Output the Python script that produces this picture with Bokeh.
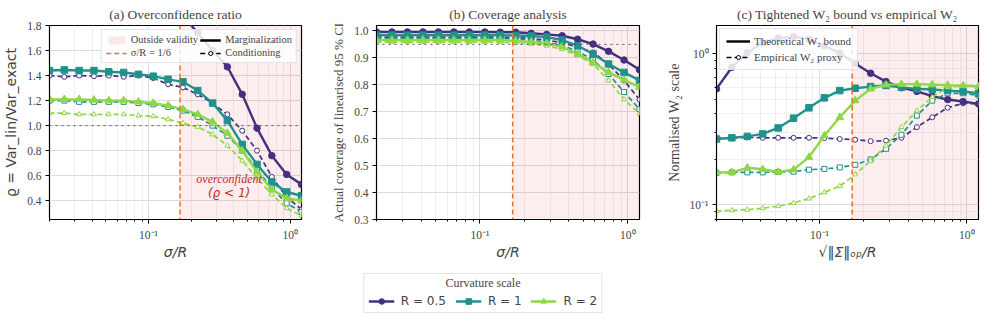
from bokeh.plotting import figure
from bokeh.models import (FixedTicker, Span, BoxAnnotation, Legend, LegendItem, Label, Range1d,
                          PrintfTickFormatter)
from bokeh.layouts import column, row
from bokeh.embed import file_html
from bokeh.resources import INLINE

# ---------------- data ----------------
sigma_over_R = [0.0200, 0.02544, 0.03238, 0.04119, 0.05241, 0.06669, 0.08484, 0.10795, 0.13734,
                0.17474, 0.22233, 0.28292, 0.35993, 0.45791, 0.58262, 0.74130, 0.94318, 1.2000]
validity_threshold = 1 / 6
ratio_reference = 1.0
nominal_coverage = 0.95

series_names = ["R = 0.5", "R = 1", "R = 2"]
series_colors = ["#45307f", "#21918c", "#8fd744"]
series_markers = ["circle", "square", "triangle"]

# (a) overconfidence ratio
ratio_marg = [
    [2.10, 2.10, 2.10, 2.09, 2.09, 2.08, 2.07, 2.05, 1.98, 1.88, 1.74, 1.60, 1.47, 1.25, 0.98, 0.76, 0.61, 0.53],
    [1.44, 1.445, 1.44, 1.44, 1.43, 1.425, 1.41, 1.395, 1.37, 1.35, 1.28, 1.18, 1.04, 0.85, 0.69, 0.55, 0.47, 0.44],
    [1.21, 1.21, 1.21, 1.205, 1.20, 1.20, 1.19, 1.18, 1.16, 1.13, 1.09, 1.03, 0.94, 0.80, 0.63, 0.49, 0.42, 0.40],
]
ratio_cond = [
    [1.40, 1.39, 1.40, 1.395, 1.40, 1.39, 1.40, 1.38, 1.33, 1.305, 1.25, 1.18, 1.09, 0.96, 0.80, 0.59, 0.43, 0.33],
    [1.20, 1.20, 1.19, 1.19, 1.19, 1.19, 1.18, 1.17, 1.15, 1.12, 1.07, 1.00, 0.92, 0.80, 0.65, 0.50, 0.38, 0.31],
    [1.10, 1.10, 1.09, 1.09, 1.09, 1.09, 1.08, 1.075, 1.05, 1.02, 0.99, 0.93, 0.84, 0.72, 0.58, 0.45, 0.34, 0.28],
]
# (b) coverage
cov_marg = [
    [0.996, 0.996, 0.996, 0.996, 0.996, 0.996, 0.996, 0.996, 0.995, 0.995, 0.991, 0.987, 0.982, 0.969, 0.951, 0.924, 0.892, 0.856],
    [0.984, 0.984, 0.984, 0.984, 0.984, 0.984, 0.984, 0.984, 0.984, 0.983, 0.981, 0.977, 0.966, 0.945, 0.914, 0.877, 0.846, 0.816],
    [0.966, 0.966, 0.966, 0.966, 0.966, 0.966, 0.966, 0.966, 0.966, 0.963, 0.959, 0.953, 0.941, 0.914, 0.883, 0.846, 0.818, 0.791],
]
cov_cond = [
    [0.977, 0.977, 0.977, 0.977, 0.977, 0.977, 0.977, 0.977, 0.977, 0.975, 0.972, 0.966, 0.956, 0.940, 0.920, 0.877, 0.816, 0.745],
    [0.972, 0.972, 0.972, 0.972, 0.972, 0.972, 0.972, 0.972, 0.972, 0.970, 0.966, 0.958, 0.946, 0.924, 0.892, 0.840, 0.773, 0.710],
    [0.958, 0.958, 0.958, 0.958, 0.958, 0.958, 0.958, 0.958, 0.958, 0.956, 0.952, 0.945, 0.932, 0.908, 0.877, 0.816, 0.746, 0.693],
]
# (c) W2 bound vs proxy
w2_bound = [
    [0.586, 0.815, 1.02, 1.18, 1.27, 1.30, 1.25, 1.13, 1.01, 0.862, 0.744, 0.655, 0.597, 0.564, 0.525, 0.498, 0.483, 0.466],
    [0.273, 0.278, 0.284, 0.295, 0.323, 0.375, 0.439, 0.511, 0.571, 0.592, 0.607, 0.617, 0.600, 0.586, 0.580, 0.571, 0.563, 0.548],
    [0.164, 0.164, 0.176, 0.172, 0.165, 0.171, 0.207, 0.288, 0.380, 0.490, 0.586, 0.623, 0.630, 0.630, 0.625, 0.620, 0.617, 0.607],
]
w2_proxy = [
    [0.275, 0.276, 0.280, 0.278, 0.278, 0.278, 0.278, 0.277, 0.273, 0.270, 0.264, 0.266, 0.278, 0.327, 0.380, 0.440, 0.470, 0.467],
    [0.163, 0.164, 0.164, 0.164, 0.165, 0.166, 0.171, 0.173, 0.177, 0.184, 0.200, 0.235, 0.291, 0.390, 0.490, 0.548, 0.548, 0.530],
    [0.091, 0.092, 0.093, 0.095, 0.098, 0.103, 0.110, 0.121, 0.133, 0.159, 0.196, 0.247, 0.327, 0.421, 0.516, 0.600, 0.617, 0.617],
]

x_major = [0.1, 1.0]
x_minor = [0.02, 0.03, 0.04, 0.05, 0.06, 0.07, 0.08, 0.09, 0.2, 0.3, 0.4, 0.5, 0.6, 0.7, 0.8, 0.9]
x_labels = {0.1: "10⁻¹", 1.0: "10⁰"}

SERIF = "Liberation Serif"
SANS = "DejaVu Sans"
SHADE = "#d62728"
ORANGE = "#e8772e"
OFF = [1e-6]  # legend-only dummy renderers are placed outside the visible range
FIG_H = 262
LEG_H = 53


def make_panel(title, width, bl, br, y_type, y_rng, y_label, y_label_font, y_label_size,
               x_label, marg, cond):
    p = figure(width=width, height=FIG_H, x_axis_type="log", y_axis_type=y_type,
               x_range=Range1d(0.02, 1.2), y_range=Range1d(*y_rng),
               output_backend="svg", toolbar_location=None,
               min_border_left=bl, min_border_right=br, min_border_top=17, min_border_bottom=40,
               title=title)
    p.title.text_font = SERIF
    p.title.text_font_size = "13.5px"
    p.title.text_font_style = "normal"
    p.title.align = "center"
    p.title.standoff = 8
    p.title.offset = 0
    p.outline_line_color = "black"
    p.outline_line_width = 1.2
    p.background_fill_color = "white"

    p.xaxis.ticker = FixedTicker(ticks=x_major, minor_ticks=x_minor)
    p.xaxis.major_label_overrides = x_labels
    for ax in [p.xaxis[0], p.yaxis[0]]:
        ax.major_label_text_font = SERIF
        ax.major_label_text_font_size = "11.5px"
        ax.major_tick_in = 0
        ax.major_tick_out = 4
        ax.minor_tick_in = 0
        ax.minor_tick_out = 2
        ax.axis_line_color = "black"
        ax.major_tick_line_color = "black"
        ax.minor_tick_line_color = "black"
        ax.major_label_standoff = 4
    p.xaxis.major_label_standoff = 5
    p.xaxis.axis_label = x_label
    p.xaxis.axis_label_text_font = SANS
    p.xaxis.axis_label_text_font_style = "italic"
    p.xaxis.axis_label_text_font_size = "14px"
    p.xaxis.axis_label_standoff = 0
    p.yaxis.axis_label = y_label
    p.yaxis.axis_label_text_font = y_label_font
    p.yaxis.axis_label_text_font_style = "normal"
    p.yaxis.axis_label_text_font_size = y_label_size
    p.yaxis.axis_label_standoff = 5

    p.xgrid.grid_line_color = "#dcdcdc"
    p.xgrid.minor_grid_line_color = "#efefef"
    p.ygrid.grid_line_color = "#dcdcdc"

    p.add_layout(BoxAnnotation(left=validity_threshold, fill_color=SHADE, fill_alpha=0.08,
                               line_alpha=0, level="underlay"))
    p.add_layout(Span(location=validity_threshold, dimension="height", line_color=ORANGE,
                      line_dash="5 3", line_width=1.6))

    for k in range(3):
        c = series_colors[k]
        p.line(sigma_over_R, cond[k], line_color=c, line_width=1.7, line_dash="5 3")
        p.scatter(sigma_over_R, cond[k], marker=series_markers[k], size=5, fill_color="white",
                  line_color=c, line_width=1)
        p.line(sigma_over_R, marg[k], line_color=c, line_width=2.4)
        p.scatter(sigma_over_R, marg[k], marker=series_markers[k],
                  size=7.5 if series_markers[k] == "triangle" else 6.5,
                  fill_color=c, line_color=c)
    return p


def style_legend(lg):
    lg.label_text_font = SERIF
    lg.label_text_font_size = "10.5px"
    lg.glyph_width = 21
    lg.glyph_height = 10
    lg.label_standoff = 4
    lg.label_height = 10
    lg.label_width = 10
    lg.padding = 4
    lg.spacing = 2
    lg.margin = 4
    lg.border_line_color = "#cccccc"
    lg.background_fill_alpha = 0.85


# ---------- panel (a)
pa = make_panel("(a) Overconfidence ratio", 318, 40, 17, "linear", (0.25, 1.8),
                "ϱ = Var_lin/Var_exact", SANS, "14px", "σ/R", ratio_marg, ratio_cond)
pa.yaxis.ticker = FixedTicker(ticks=[0.4, 0.6, 0.8, 1.0, 1.2, 1.4, 1.6, 1.8])
pa.yaxis.formatter = PrintfTickFormatter(format="%.1f")
pa.add_layout(Span(location=ratio_reference, dimension="width", line_color="#555555",
                   line_dash="dotted", line_width=1))
pa.add_layout(Label(x=0.37, y=0.57, text="overconfident", text_font=SERIF, text_font_style="italic",
                    text_font_size="12px", text_color="#c62828", text_align="center",
                    text_baseline="middle"))
pa.add_layout(Label(x=0.37, y=0.465, text="(ϱ < 1)", text_font=SANS, text_font_style="italic",
                    text_font_size="12px", text_color="#c62828", text_align="center",
                    text_baseline="middle"))
d_out = pa.quad(left=[1e-7], right=OFF, top=[1.0], bottom=[0.9], fill_color=SHADE, fill_alpha=0.1,
                line_alpha=0)
d_vl = pa.line(OFF, [1.0], line_color=ORANGE, line_dash="5 3", line_width=1.6)
d_marg = pa.line(OFF, [1.0], line_color="black", line_width=2.4)
d_cond = pa.line(OFF, [1.0], line_color="black", line_width=1.7, line_dash="5 3")
d_cond_s = pa.scatter(OFF, [1.0], marker="circle", size=5, fill_color="white", line_color="black")
lga = Legend(items=[LegendItem(label="Outside validity", renderers=[d_out]),
                    LegendItem(label="σ/R = 1/6", renderers=[d_vl]),
                    LegendItem(label="Marginalization", renderers=[d_marg]),
                    LegendItem(label="Conditioning", renderers=[d_cond, d_cond_s])],
             ncols=2, location="top_right")
style_legend(lga)
pa.add_layout(lga)

# ---------- panel (b)
pb = make_panel("(b) Coverage analysis", 338, 58, 17, "linear", (0.3, 1.02),
                "Actual coverage of linearised 95 % CI", SERIF, "13px", "σ/R", cov_marg, cov_cond)
pb.yaxis.ticker = FixedTicker(ticks=[0.3, 0.4, 0.5, 0.6, 0.7, 0.8, 0.9, 1.0])
pb.yaxis.formatter = PrintfTickFormatter(format="%.1f")
pb.add_layout(Span(location=nominal_coverage, dimension="width", line_color="#555555",
                   line_dash="dotted", line_width=1))

# ---------- panel (c)
pc = make_panel("(c) Tightened W₂ bound vs empirical W₂", 325, 60, 3, "log", (0.08, 1.54),
                "Normalised W₂ scale", SERIF, "14px", "√‖Σ‖ₒₚ/R", w2_bound, w2_proxy)
pc.yaxis.ticker = FixedTicker(ticks=[0.1, 1.0],
                              minor_ticks=[0.08, 0.09, 0.2, 0.3, 0.4, 0.5, 0.6, 0.7, 0.8, 0.9])
pc.yaxis.major_label_overrides = {0.1: "10⁻¹", 1.0: "10⁰"}
pc.ygrid.minor_grid_line_color = "#efefef"
c_b = pc.line(OFF, [1.0], line_color="black", line_width=2.4)
c_p = pc.line(OFF, [1.0], line_color="black", line_width=1.7, line_dash="5 3")
c_ps = pc.scatter(OFF, [1.0], marker="circle", size=5, fill_color="white", line_color="black")
lgc = Legend(items=[LegendItem(label="Theoretical W₂ bound", renderers=[c_b]),
                    LegendItem(label="Empirical W₂ proxy", renderers=[c_p, c_ps])],
             location="top_left")
style_legend(lgc)
lgc.label_text_font_size = "11px"
lgc.glyph_width = 24
lgc.padding = 6
lgc.spacing = 4
lgc.margin = 3
pc.add_layout(lgc)

# ---------- shared legend
pl = figure(width=965, height=LEG_H, output_backend="svg", toolbar_location=None,
            x_range=Range1d(0, 1), y_range=Range1d(0, LEG_H),
            x_axis_location=None, y_axis_location=None,
            min_border_left=0, min_border_right=0, min_border_top=0, min_border_bottom=0)
pl.grid.visible = False
pl.outline_line_color = None
items = []
for k in range(3):
    c = series_colors[k]
    rl = pl.line([-10], [-10], line_color=c, line_width=2.4)
    rs = pl.scatter([-10], [-10], marker=series_markers[k], size=7, fill_color=c, line_color=c)
    items.append(LegendItem(label=series_names[k], renderers=[rl, rs]))
lgb = Legend(items=items, orientation="horizontal", location="bottom_center", title="\u00a0")
lgb.title_text_font = SERIF
lgb.title_text_font_size = "12px"
lgb.title_location = "above"
lgb.title_standoff = 1
lgb.label_text_font = SANS
lgb.label_text_font_size = "12px"
lgb.glyph_width = 26
lgb.glyph_height = 14
lgb.label_standoff = 7
lgb.label_width = 10
lgb.spacing = 9
lgb.padding = 4
lgb.margin = 2
lgb.border_line_color = "#cccccc"
lgb.background_fill_alpha = 0
pl.add_layout(lgb)
pl.add_layout(Label(x=0.5, y=33, text="Curvature scale", text_font=SERIF,
                    text_font_size="12px", text_align="center", text_baseline="middle"))

layout = column(row(pa, pb, pc), pl)
open("out.html", "w").write(file_html(layout, INLINE))
